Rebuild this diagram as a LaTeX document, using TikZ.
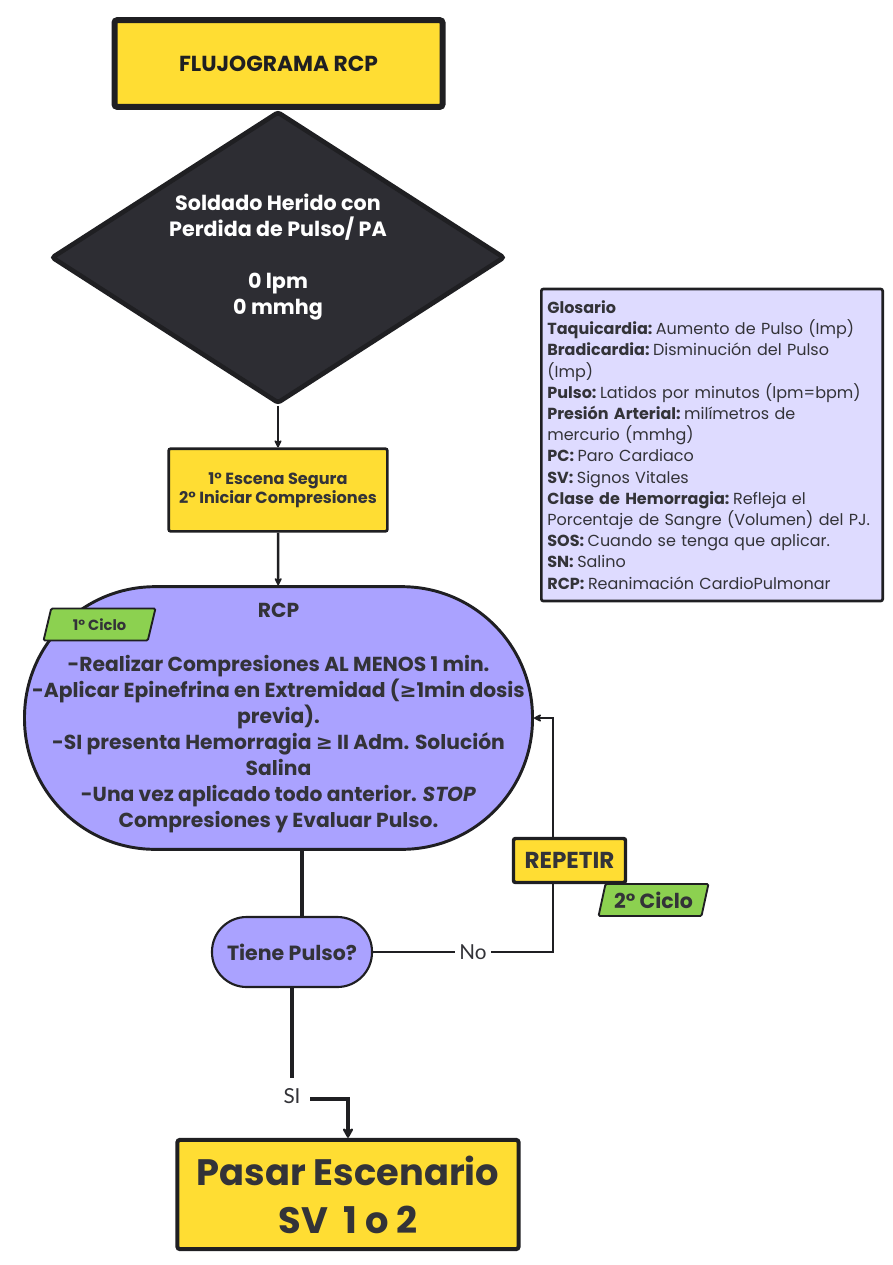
\documentclass[tikz,border=0pt]{standalone}
\usepackage{fontspec}
\setmainfont{Poppins}
\newfontfamily\answerfont{Lato}
\newfontfamily\symbfont{DejaVu Sans}
\usepackage{tikz}
\usetikzlibrary{shapes.geometric, positioning, arrows.meta}

\definecolor{flowyellow}{HTML}{FFDD33}
\definecolor{flowink}{HTML}{1F1F22}
\definecolor{flowtext}{HTML}{333338}
\definecolor{flowdark}{HTML}{2D2D33}
\definecolor{flowlilac}{HTML}{AAA2FF}
\definecolor{flowpale}{HTML}{DEDBFF}
\definecolor{flowgreen}{HTML}{8CD150}

\newcommand\glossterm[1]{\textbf{#1}\hspace{0.22em}}

\tikzset{
  >={Stealth[round]},
  titlebox/.style={draw=flowink, fill=flowyellow, line width=4.5pt, rounded corners=2pt,
    minimum width=246pt, minimum height=65pt, text=flowink, align=center,
    font=\fontsize{16.3}{19}\selectfont\bfseries},
  decision/.style={diamond, draw=flowink, fill=flowdark, line width=3.5pt, rounded corners=2pt,
    minimum width=340pt, minimum height=219pt, aspect=1.55, inner sep=0pt,
    text=white, align=center, font=\fontsize{15.5}{19.5}\selectfont\bfseries},
  taskbox/.style={draw=flowink, fill=flowyellow, line width=2pt, rounded corners=1.5pt,
    minimum width=164pt, minimum height=62pt, text=flowtext, align=center,
    font=\fontsize{12.1}{14.25}\selectfont\bfseries},
  process/.style={draw=flowink, fill=flowlilac, line width=2.2pt, rounded corners=98pt,
    minimum width=381pt, minimum height=197pt, inner sep=0pt, text=flowtext, align=center,
    font=\fontsize{15.2}{19.5}\selectfont\bfseries},
  query/.style={draw=flowink, fill=flowlilac, line width=1.6pt, rounded corners=26pt,
    minimum width=120pt, minimum height=52.5pt, text=flowtext,
    font=\fontsize{15.4}{18}\selectfont\bfseries},
  loopbox/.style={draw=flowink, fill=flowyellow, line width=2.6pt, rounded corners=1.5pt,
    minimum width=84pt, minimum height=33pt, inner sep=0pt, text=flowtext,
    font=\fontsize{17.3}{20}\selectfont\bfseries},
  cycletag/.style={trapezium, trapezium left angle=73, trapezium right angle=107,
    trapezium stretches=true, draw=flowink, fill=flowgreen, line width=1.4pt,
    rounded corners=1pt, minimum height=24pt, inner sep=1pt, text=flowtext},
  endbox/.style={draw=flowink, fill=flowyellow, line width=3pt, rounded corners=2pt,
    minimum width=256pt, minimum height=82pt, text=flowtext, align=center,
    font=\fontsize{27.6}{36}\selectfont\bfseries},
  glossbox/.style={draw=flowink, fill=flowpale, line width=2pt, rounded corners=1.5pt,
    minimum width=256pt, minimum height=234pt, inner xsep=4.5pt, text width=247pt,
    text=flowtext, align=left, font=\fontsize{12}{15.9}\selectfont},
  answer/.style={fill=white, text=flowtext, inner sep=1pt, minimum size=27pt,
    font=\answerfont\fontsize{15.5}{18}\selectfont},
  link/.style={draw=flowink, line width=1.9pt},
  heavylink/.style={draw=flowink, line width=3pt}
}

\begin{document}
\begin{tikzpicture}[x=0.75pt, y=-0.75pt]
  \useasboundingbox (0,0) rectangle (893,1265);

  \node[titlebox] (title) at (278.5,63.5) {FLUJOGRAMA RCP};
  \node[decision] (soldado) at (278,257.5)
    {Soldado Herido con\\Perdida de Pulso/ PA\\[19.5pt]0 lpm\\0 mmhg};
  \node[taskbox] (escena) at (278,490) {1° Escena Segura\\2° Iniciar Compresiones};
  \node[process] (rcp) at (278.5,718)
    {RCP\\[21pt]
     -Realizar Compresiones AL MENOS 1 min.\\
     -Aplicar Epinefrina en Extremidad ({\symbfont ≥}1min dosis\\
     previa).\\
     -SI presenta Hemorragia {\symbfont ≥} II Adm. Solución\\
     Salina\\
     -Una vez aplicado todo anterior. \textit{STOP}\\
     Compresiones y Evaluar Pulso.};
  \node[cycletag, minimum width=84pt, font=\fontsize{11}{13}\selectfont\bfseries]
    (ciclo1) at (99.5,624.5) {1° Ciclo};
  \node[query] (pulso) at (292,952) {Tiene Pulso?};
  \node[loopbox] (repetir) at (569.5,860.5) {REPETIR};
  \node[cycletag, minimum width=83pt, font=\fontsize{15.4}{17}\selectfont\bfseries]
    (ciclo2) at (653.5,900) {2° Ciclo};
  \node[endbox] (pasar) at (348,1194.5) {Pasar Escenario\\SV\ \ 1 o 2};

  \node[glossbox] (glosario) at (712,445)
    {\textbf{Glosario}\\
     \glossterm{Taquicardia:}Aumento de Pulso (Imp)\\
     \glossterm{Bradicardia:}Disminución del Pulso\\
     (Imp)\\
     \glossterm{Pulso:}Latidos por minutos (lpm=bpm)\\
     \glossterm{Presión Arterial:}milímetros de\\
     mercurio (mmhg)\\
     \glossterm{PC:}Paro Cardiaco\\
     \glossterm{SV:}Signos Vitales\\
     \glossterm{Clase de Hemorragia:}Refleja el\\
     Porcentaje de Sangre (Volumen) del PJ.\\
     \glossterm{SOS:}Cuando se tenga que aplicar.\\
     \glossterm{SN:}Salino\\
     \glossterm{RCP:}Reanimación CardioPulmonar};

  % connectors
  \coordinate (split) at (302,884);
  \coordinate (noTurn) at (553,952);
  \coordinate (loopTop) at (553,718);
  \coordinate (siCorner) at (292,1099);

  \draw[link, -{Stealth[round, length=7pt, width=7pt]}] (soldado) -- (escena);
  \draw[link, -{Stealth[round, length=7pt, width=7pt]}] (escena) -- (rcp);
  \draw[heavylink] (split |- rcp.south) -- (split |- pulso.north);
  \draw[link] (pulso) -- (noTurn) -- (repetir.south -| noTurn);
  \draw[link, -{Stealth[round, length=7pt, width=7pt]}]
    (repetir.north -| noTurn) -- (loopTop) -- (rcp.east);
  \node[answer] (noLabel) at (473,952) {No};
  \draw[heavylink, -{Stealth[round, length=9pt, width=10pt]}]
    (pulso.south) -- (siCorner) -| (pasar.north);
  \node[answer] (siLabel) at (292,1096) {SI};
\end{tikzpicture}
\end{document}
